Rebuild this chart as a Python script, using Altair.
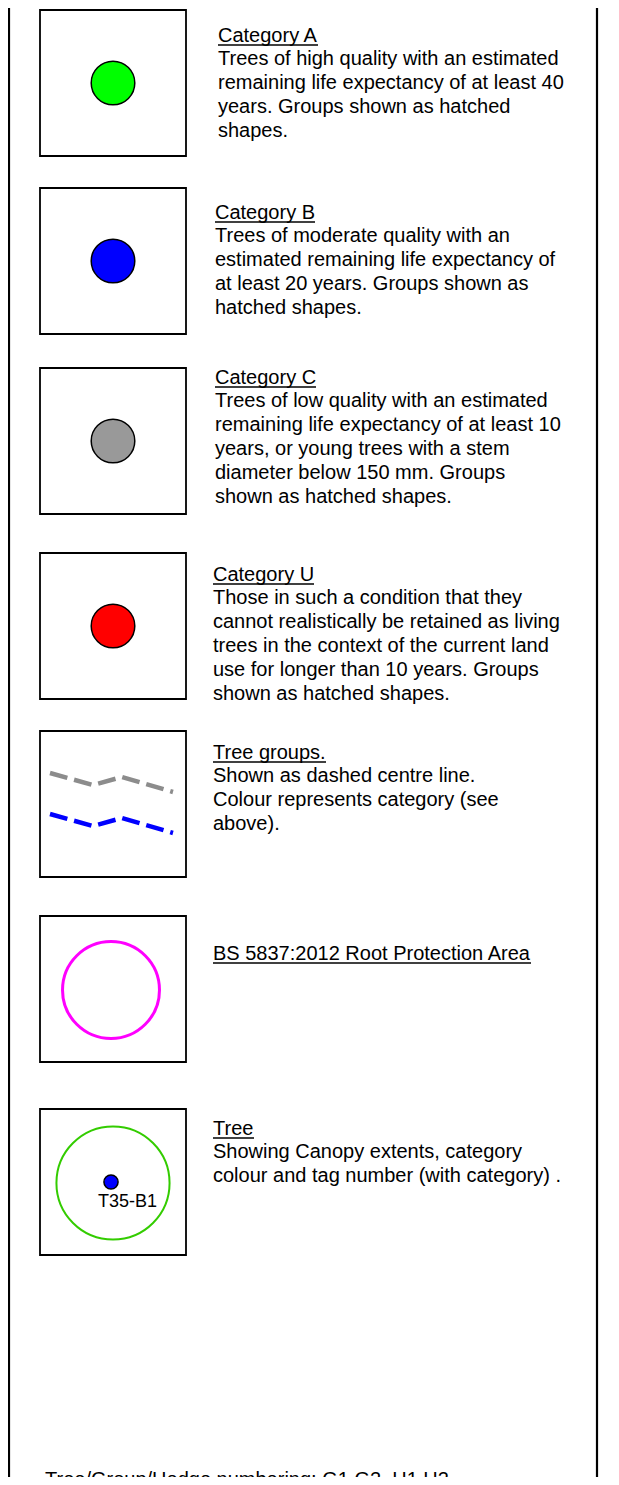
import altair as alt
import pandas as pd

# ---------------- content ----------------
titles = ["Category A", "Category B", "Category C", "Category U",
          "Tree groups.", "BS 5837:2012 Root Protection Area", "Tree"]
descriptions = [
    ["Trees of high quality with an estimated",
     "remaining life expectancy of at least 40",
     "years. Groups shown as hatched",
     "shapes."],
    ["Trees of moderate quality with an",
     "estimated remaining life expectancy of",
     "at least 20 years. Groups shown as",
     "hatched shapes."],
    ["Trees of low quality with an estimated",
     "remaining life expectancy of at least 10",
     "years, or young trees with a stem",
     "diameter below 150 mm. Groups",
     "shown as hatched shapes."],
    ["Those in such a condition that they",
     "cannot realistically be retained as living",
     "trees in the context of the current land",
     "use for longer than 10 years. Groups",
     "shown as hatched shapes."],
    ["Shown as dashed centre line.",
     "Colour represents category (see",
     "above)."],
    [],
    ["Showing Canopy extents, category",
     "colour and tag number (with category) ."],
]
category_colors = ["#00ff00", "#0000ff", "#999999", "#ff0000"]
group_line_colors = ["#8c8c8c", "#0000ff"]
rpa_color = "#ff00ff"
canopy_color = "#33cc00"
tag_label = "T35-B1"
tag_color = "#0000ff"
footer = "Tree/Group/Hedge numbering: G1,G2, H1,H2"

# ---------------- layout (page pixels) ----------------
box_tops = [10, 188, 368, 553, 731, 916, 1109]
box_left, box_size = 40, 146
text_x = [218, 215, 215, 213, 213, 213, 213]
title_baseline = [42, 219, 384, 581, 759, 960, 1135]
title_width = [100, 100, 101, 101, 113, 318, 41]
line_step = 24
first_gap = 23
sym_cx = 113
# dashed group line shape (vertices)
group_shape_x = [50, 93, 122, 173]
group_shape_y = [773, 785, 777, 792]
group_offsets = [0, 41]

W, H = 603, 1469
xs = alt.Scale(domain=[8, 8 + W], nice=False, zero=False)
ys = alt.Scale(domain=[8, 8 + H], nice=False, zero=False, reverse=True)
font = "Liberation Sans"

def X(f="x"):
    return alt.X(f"{f}:Q", scale=xs, axis=None)

def Y(f="y"):
    return alt.Y(f"{f}:Q", scale=ys, axis=None)

# outer frame lines
frame = pd.DataFrame({"x": [9, 597], "y": [0, 0], "y2": [1500, 1500]})
frame_layer = alt.Chart(frame).mark_rule(color="black", strokeWidth=2.2).encode(
    x=X(), y=Y(), y2="y2:Q")

# boxes
boxes = pd.DataFrame({
    "x": [box_left] * len(box_tops),
    "x2": [box_left + box_size] * len(box_tops),
    "y": box_tops,
    "y2": [t + box_size for t in box_tops],
})
box_layer = alt.Chart(boxes).mark_rect(fill="white", stroke="black", strokeWidth=1.8).encode(
    x=X(), x2="x2:Q", y=Y(), y2="y2:Q")

# category dots
dots = pd.DataFrame({
    "x": [sym_cx] * 4,
    "y": [t + box_size / 2 for t in box_tops[:4]],
    "fill": category_colors,
})
dot_layer = alt.Chart(dots).mark_point(shape="circle", filled=True, opacity=1,
                                       stroke="black", strokeWidth=1.5, size=1900).encode(
    x=X(), y=Y(), fill=alt.Fill("fill:N", scale=None))

# rings: RPA and canopy
rings = pd.DataFrame({
    "x": [111, 113],
    "y": [box_tops[5] + 74, box_tops[6] + 74],
    "color": [rpa_color, canopy_color],
    "size": [9400, 12800],
    "sw": [3, 2],
})
ring_layer = alt.Chart(rings).mark_point(shape="circle", filled=False, opacity=1).encode(
    x=X(), y=Y(), stroke=alt.Stroke("color:N", scale=None),
    size=alt.Size("size:Q", scale=None),
    strokeWidth=alt.StrokeWidth("sw:Q", scale=None))

# tree tag dot
tag = pd.DataFrame({"x": [111], "y": [box_tops[6] + 73], "fill": [tag_color]})
tag_layer = alt.Chart(tag).mark_point(shape="circle", filled=True, opacity=1,
                                      stroke="black", strokeWidth=1.5, size=200).encode(
    x=X(), y=Y(), fill=alt.Fill("fill:N", scale=None))
tag_text = pd.DataFrame({"x": [98], "y": [1207], "text": [tag_label]})
tag_text_layer = alt.Chart(tag_text).mark_text(align="left", baseline="alphabetic",
                                               font=font, fontSize=18, color="black").encode(
    x=X(), y=Y(), text="text:N")

# dashed group lines
rows = []
for s, (c, off) in enumerate(zip(group_line_colors, group_offsets)):
    for i, (gx, gy) in enumerate(zip(group_shape_x, group_shape_y)):
        rows.append({"x": gx, "y": gy + off, "series": f"s{s}", "order": i, "color": c})
glines = pd.DataFrame(rows)
gline_layer = alt.Chart(glines).mark_line(strokeWidth=4.5, strokeDash=[18, 7], strokeCap="butt").encode(
    x=X(), y=Y(), detail="series:N", order="order:Q",
    color=alt.Color("color:N", scale=None))

# texts
trows = []
urows = []
for k, t in enumerate(titles):
    trows.append({"x": text_x[k], "y": title_baseline[k], "text": t})
    urows.append({"x": text_x[k], "x2": text_x[k] + title_width[k], "y": title_baseline[k] + 3})
    for j, line in enumerate(descriptions[k]):
        trows.append({"x": text_x[k], "y": title_baseline[k] + first_gap + j * line_step, "text": line})
trows.append({"x": 45, "y": 1486, "text": footer})
texts = pd.DataFrame(trows)
text_layer = alt.Chart(texts).mark_text(align="left", baseline="alphabetic",
                                        font=font, fontSize=20, color="black").encode(
    x=X(), y=Y(), text="text:N")
unders = pd.DataFrame(urows)
under_layer = alt.Chart(unders).mark_rule(color="black", strokeWidth=1.5).encode(
    x=X(), x2="x2:Q", y=Y())

chart = alt.layer(
    frame_layer, box_layer, dot_layer, ring_layer, tag_layer, tag_text_layer,
    gline_layer, text_layer, under_layer
).properties(width=W, height=H, padding=0, autosize="none", background="white"
).configure_view(strokeWidth=0)

chart.save("out.html", embed_options={"renderer": "svg", "actions": False})
